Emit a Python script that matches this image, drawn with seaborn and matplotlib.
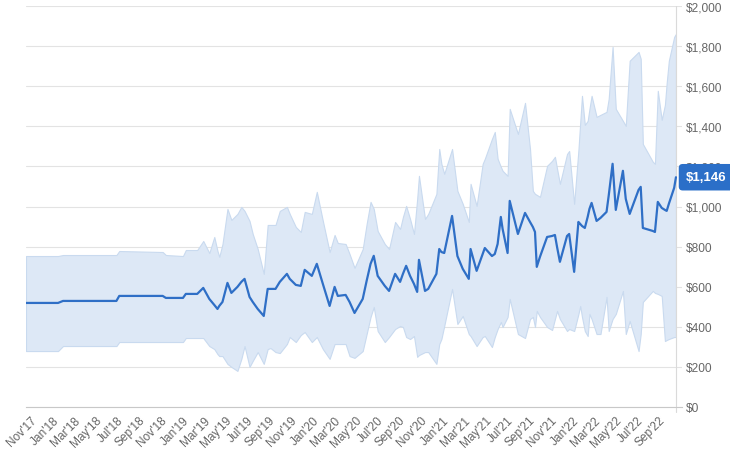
import matplotlib
matplotlib.use("Agg")
import numpy as np
import pandas as pd
import matplotlib.pyplot as plt
import matplotlib.dates as mdates
import matplotlib.transforms as mtransforms
import seaborn as sns
from matplotlib.ticker import FuncFormatter, MultipleLocator

# Price history: median sale price with the low/high range around it
dates = [
    "2017-11-01", "2018-01-30", "2018-02-13", "2018-07-13", "2018-07-21", "2018-11-20", "2018-11-29", "2019-01-16", "2019-01-24", "2019-02-25",
    "2019-03-14", "2019-03-31", "2019-04-14", "2019-04-23", "2019-04-28", "2019-05-07", "2019-05-21", "2019-06-01", "2019-06-18", "2019-06-29",
    "2019-07-08", "2019-07-22", "2019-07-31", "2019-08-14", "2019-08-31", "2019-09-11", "2019-09-19", "2019-10-03", "2019-10-15", "2019-11-04",
    "2019-11-12", "2019-11-29", "2019-12-13", "2019-12-24", "2020-01-13", "2020-01-27", "2020-02-13", "2020-03-03", "2020-03-17", "2020-03-26",
    "2020-04-17", "2020-04-28", "2020-05-12", "2020-06-04", "2020-06-15", "2020-06-26", "2020-07-05", "2020-07-16", "2020-08-05", "2020-08-17",
    "2020-09-03", "2020-09-17", "2020-09-25", "2020-10-04", "2020-10-15", "2020-10-26", "2020-11-04", "2020-11-09", "2020-11-26", "2020-12-05",
    "2020-12-28", "2021-01-05", "2021-01-11", "2021-01-19", "2021-02-10", "2021-02-25", "2021-03-12", "2021-03-29", "2021-04-03", "2021-04-20",
    "2021-05-07", "2021-05-13", "2021-06-02", "2021-06-10", "2021-06-18", "2021-06-27", "2021-07-02", "2021-07-16", "2021-07-22", "2021-08-14",
    "2021-09-03", "2021-09-17", "2021-09-25", "2021-10-01", "2021-10-06", "2021-10-15", "2021-11-04", "2021-11-18", "2021-11-26", "2021-12-02",
    "2021-12-10", "2021-12-30", "2022-01-05", "2022-01-19", "2022-01-31", "2022-02-05", "2022-02-10", "2022-02-18", "2022-02-26", "2022-03-03",
    "2022-03-09", "2022-03-23", "2022-04-03", "2022-04-20", "2022-04-26", "2022-05-07", "2022-05-16", "2022-06-05", "2022-06-13", "2022-06-24",
    "2022-07-19", "2022-07-25", "2022-07-31", "2022-08-28", "2022-09-03", "2022-09-11", "2022-09-22", "2022-10-01", "2022-10-06", "2022-10-12",
    "2022-10-27", "2022-11-01",
]

median_price = [
    519, 519, 529, 529, 554, 554, 544, 544, 564, 564,
    594, 539, 509, 489, 504, 524, 619, 569, 599, 624,
    639, 549, 524, 489, 454, 589, 589, 589, 624, 664,
    639, 609, 604, 684, 654, 714, 614, 504, 599, 554,
    559, 524, 469, 539, 629, 714, 754, 654, 604, 579,
    664, 624, 664, 704, 654, 614, 574, 734, 579, 589,
    664, 788, 773, 768, 953, 753, 689, 639, 788, 679,
    763, 793, 753, 763, 813, 948, 888, 768, 1028, 863,
    968, 923, 898, 873, 699, 749, 848, 853, 858, 798,
    724, 853, 863, 674, 923, 913, 903, 893, 948, 988,
    1018, 928, 943, 973, 1053, 1213, 983, 1178, 1038, 963,
    1083, 1098, 893, 878, 873, 1023, 993, 983, 978, 1013,
    1093, 1146,
]

high_price = [
    753, 753, 758, 758, 778, 773, 758, 753, 783, 783,
    828, 768, 848, 778, 749, 813, 988, 933, 963, 998,
    978, 928, 863, 788, 664, 908, 908, 908, 978, 998,
    963, 898, 873, 973, 963, 1073, 928, 773, 858, 818,
    813, 763, 694, 788, 913, 1023, 988, 878, 813, 788,
    923, 888, 948, 1003, 938, 863, 1038, 1153, 938, 963,
    1063, 1287, 1213, 1163, 1287, 1078, 1013, 923, 1113, 1003,
    1213, 1238, 1337, 1372, 1238, 1198, 1178, 1153, 1487, 1362,
    1517, 1287, 1078, 1063, 1058, 1048, 1203, 1228, 1248, 1188,
    1113, 1262, 1277, 1013, 1282, 1417, 1552, 1407, 1427, 1487,
    1552, 1447, 1457, 1472, 1537, 1796, 1487, 1427, 1402, 1727,
    1771, 1737, 1312, 1223, 1213, 1577, 1432, 1507, 1617, 1727,
    1846, 1861,
]

low_price = [
    279, 279, 304, 304, 324, 324, 324, 324, 344, 344,
    344, 304, 289, 264, 254, 254, 215, 200, 180, 240,
    304, 200, 230, 274, 215, 289, 294, 274, 269, 314,
    349, 324, 359, 374, 324, 349, 289, 240, 314, 314,
    314, 254, 245, 279, 364, 449, 499, 379, 324, 349,
    389, 404, 399, 349, 339, 354, 250, 259, 274, 274,
    215, 314, 339, 404, 589, 414, 454, 364, 354, 304,
    349, 354, 299, 349, 389, 424, 399, 449, 539, 364,
    344, 439, 449, 399, 479, 449, 399, 384, 439, 479,
    439, 379, 389, 379, 464, 504, 449, 379, 354, 464,
    439, 364, 364, 549, 379, 439, 464, 579, 364, 429,
    279, 364, 524, 579, 569, 564, 554, 329, 334, 339,
    349, 349,
]

df = pd.DataFrame({
    "date": pd.to_datetime(dates),
    "price": median_price,
    "high": high_price,
    "low": low_price,
})

line_color = "#2f6fc6"
band_color = "#dde8f6"
text_color = "#666666"

sns.set_theme(style="white")
plt.rcParams["font.family"] = ["Liberation Sans", "DejaVu Sans"]

fig = plt.figure(figsize=(7.3, 4.56), dpi=100)
ax = fig.add_axes([26 / 730, 48 / 456, 656 / 730, 401 / 456])

# range band, then the median line on top
ax.fill_between(df["date"], df["low"], df["high"], color=band_color,
                edgecolor="#c9daef", linewidth=0.8, zorder=1)
sns.lineplot(data=df, x="date", y="price", color=line_color, linewidth=1.6,
             ax=ax, zorder=3)

ax.set_xlim(pd.Timestamp("2017-11-01"), pd.Timestamp("2022-11-18"))
ax.set_ylim(0, 2000)

# y axis on the right, in dollars
ax.yaxis.tick_right()
ax.yaxis.set_major_locator(MultipleLocator(200))
ax.yaxis.set_major_formatter(FuncFormatter(lambda v, _: f"${v:,.0f}"))
ax.tick_params(axis="y", labelsize=8.6, colors=text_color, length=0, pad=3)
ax.grid(axis="y", color="#e3e3e3", linewidth=0.8, zorder=0)
ax.set_axisbelow(True)

# x ticks every two months
ax.set_xticks(pd.date_range("2017-11-01", "2022-09-01", freq="2MS"))
ax.xaxis.set_major_formatter(mdates.DateFormatter("%b'%y"))
ax.tick_params(axis="x", labelsize=8.6, colors=text_color, length=0, pad=5)
shift = mtransforms.ScaledTranslation(5 / 100, 0, fig.dpi_scale_trans)
for lbl in ax.get_xticklabels():
    lbl.set_rotation(45)
    lbl.set_ha("right")
    lbl.set_rotation_mode("anchor")
    lbl.set_transform(lbl.get_transform() + shift)

ax.set_xlabel("")
ax.set_ylabel("")
for side in ["top", "left", "right"]:
    ax.spines[side].set_visible(False)
ax.spines["bottom"].set_color("#c8c8c8")
ax.spines["bottom"].set_linewidth(0.8)

# marker line at the latest point
last = df.iloc[-1]
ax.axvline(last["date"], ymin=-0.012, ymax=1, color="#dadada", linewidth=0.8,
           clip_on=False, zorder=2)

# badge with the latest price
badge_tf = mtransforms.blended_transform_factory(fig.transFigure, ax.transData)
ax.text(686 / 730, last["price"], f"${last['price']:,.0f}", transform=badge_tf,
        fontsize=9.5, fontweight="bold", color="white", ha="left", va="center",
        bbox=dict(boxstyle="round,pad=0.55,rounding_size=0.3", fc="#2b6fc8", ec="none"),
        clip_on=False, zorder=5)

fig.savefig("out.png", dpi=100)
